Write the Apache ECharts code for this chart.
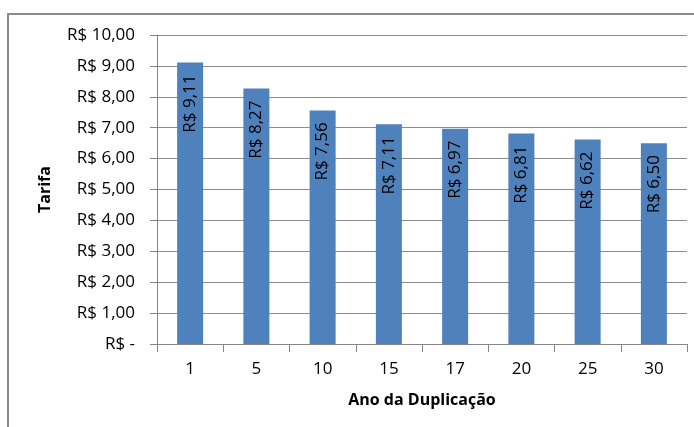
<!DOCTYPE html>
<html>
<head>
<meta charset="utf-8">
<script src="https://cdn.jsdelivr.net/npm/echarts@6/dist/echarts.min.js"></script>
<style>
  html, body { margin: 0; padding: 0; background: #fff; }
  #chart { width: 694px; height: 427px; }
</style>
</head>
<body>
<div id="chart"></div>
<script>
const anos = ['1', '5', '10', '15', '17', '20', '25', '30'];
const tarifas = [9.11, 8.27, 7.56, 7.11, 6.97, 6.81, 6.62, 6.50];

const fonte = '"Open Sans", "Noto Sans", sans-serif';
const brl = v => 'R$ ' + v.toFixed(2).replace('.', ',');

const chart = echarts.init(document.getElementById('chart'));
chart.setOption({
  backgroundColor: '#fff',
  animation: false,
  graphic: [{
    type: 'rect',
    shape: { x: 8, y: 14, width: 700, height: 430 },
    style: { fill: 'none', stroke: '#8a8a8a', lineWidth: 2 },
    z: -1
  }],
  grid: { left: 157, right: 7, top: 35, bottom: 83 },
  xAxis: {
    type: 'category',
    data: anos,
    name: 'Ano da Duplicação',
    nameLocation: 'middle',
    nameGap: 48,
    nameTextStyle: { fontFamily: fonte, fontWeight: 'bold', fontSize: 16, color: '#000' },
    axisLine: { lineStyle: { color: '#868686' } },
    axisTick: { show: true, length: 8, lineStyle: { color: '#868686' } },
    axisLabel: { fontFamily: fonte, fontSize: 17, color: '#000', margin: 17 }
  },
  yAxis: {
    type: 'value',
    min: 0,
    max: 10,
    interval: 1,
    name: 'Tarifa',
    nameLocation: 'middle',
    nameGap: 104,
    nameTextStyle: { fontFamily: fonte, fontWeight: 'bold', fontSize: 16, color: '#000' },
    axisLine: { show: true, lineStyle: { color: '#868686' } },
    axisTick: { show: true, length: 7, inside: false, lineStyle: { color: '#868686' } },
    splitLine: { lineStyle: { color: '#8c8c8c' } },
    axisLabel: {
      fontFamily: fonte, fontSize: 17, color: '#000', margin: 22,
      formatter: v => v === 0 ? 'R$ -' : brl(v)
    }
  },
  series: [{
    type: 'bar',
    data: tarifas,
    barWidth: 26,
    itemStyle: { color: '#4f81bd' },
    label: {
      show: true,
      position: 'insideTop',
      rotate: 90,
      align: 'right',
      verticalAlign: 'middle',
      distance: 12,
      fontFamily: fonte,
      fontSize: 17,
      color: '#000',
      formatter: p => brl(p.value)
    }
  }]
});
</script>
</body>
</html>
